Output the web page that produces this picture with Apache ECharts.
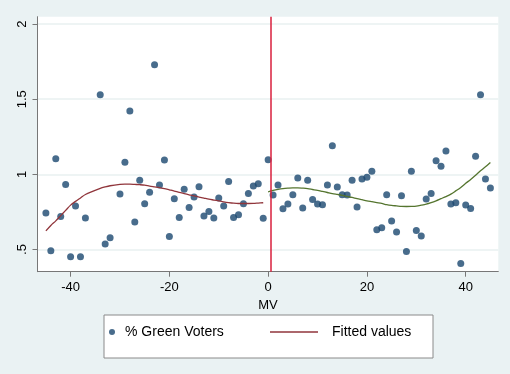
<!DOCTYPE html>
<html>
<head>
<meta charset="utf-8">
<script src="https://cdn.jsdelivr.net/npm/echarts@6/dist/echarts.min.js"></script>
<style>
html,body{margin:0;padding:0;background:#eaf2f3;}
#chart{width:510px;height:374px;}
</style>
</head>
<body>
<div id="chart"></div>
<script>
// Left of cutoff (MV < 0)
var xLeft = [-45,-44,-43,-42,-41,-40,-39,-38,-37,-34,-33,-32,-30,-29,-28,-27,-26,-25,-24,-23,-22,-21,-20,-19,-18,-17,-16,-15,-14,-13,-12,-11,-10,-9,-8,-7,-6,-5,-4,-3,-2,-1];
var yLeft = [0.742,0.491,1.104,0.720,0.933,0.451,0.789,0.451,0.709,1.529,0.536,0.578,0.869,1.080,1.422,0.682,0.960,0.804,0.880,1.729,0.929,1.096,0.587,0.838,0.713,0.900,0.780,0.849,0.918,0.722,0.753,0.709,0.842,0.789,0.953,0.713,0.731,0.804,0.873,0.922,0.938,0.707];
var fitLeft = [0.624,0.660,0.690,0.725,0.760,0.795,0.820,0.843,0.866,0.906,0.916,0.924,0.933,0.935,0.935,0.933,0.931,0.928,0.922,0.917,0.912,0.905,0.897,0.889,0.880,0.872,0.864,0.856,0.849,0.842,0.835,0.829,0.823,0.817,0.812,0.808,0.806,0.806,0.806,0.807,0.809,0.811];
// Right of cutoff (MV >= 0)
var xRight = [0,1,2,3,4,5,6,7,8,9,10,11,12,13,14,15,16,17,18,19,20,21,22,23,24,25,26,27,28,29,30,31,32,33,34,35,36,37,38,39,40,41,42,43,44,45];
var yRight = [1.097,0.862,0.929,0.771,0.802,0.864,0.976,0.776,0.960,0.833,0.802,0.798,0.929,1.191,0.916,0.864,0.862,0.960,0.782,0.969,0.980,1.020,0.631,0.644,0.864,0.689,0.616,0.858,0.487,1.020,0.627,0.589,0.836,0.873,1.091,1.053,1.156,0.802,0.811,0.407,0.796,0.773,1.120,1.529,0.969,0.909];
var fitRight = [0.884,0.893,0.900,0.905,0.908,0.910,0.910,0.908,0.905,0.899,0.893,0.886,0.879,0.872,0.866,0.860,0.853,0.846,0.838,0.831,0.824,0.818,0.812,0.806,0.798,0.793,0.790,0.787,0.786,0.787,0.789,0.795,0.802,0.812,0.824,0.838,0.852,0.868,0.890,0.913,0.940,0.966,0.994,1.024,1.050,1.079];
var xTicks = [-40,-20,0,20,40];
var yTicks = [0.5,1,1.5,2];
var cutoff = 0.5;

function pairs(xs, ys){ return xs.map(function(x,i){ return [x, ys[i]]; }); }

var FONT = 'Liberation Sans';
var chart = echarts.init(document.getElementById('chart'), null, {renderer:'canvas'});
chart.setOption({
  animation:false,
  backgroundColor:'#eaf2f3',
  textStyle:{fontFamily:FONT},
  grid:{left:37.5, right:11.7, top:16.7, bottom:102.3, show:true, backgroundColor:'#ffffff', borderWidth:0},
  xAxis:{
    type:'value', min:-46.7, max:46.6,
    name:'MV', nameLocation:'middle', nameGap:20,
    nameTextStyle:{color:'#000', fontSize:13, fontFamily:FONT},
    axisLine:{show:true, onZero:false, lineStyle:{color:'#777', width:1}},
    axisTick:{show:true, length:5, customValues:xTicks, lineStyle:{color:'#777'}},
    axisLabel:{customValues:xTicks, color:'#000', fontSize:13, fontFamily:FONT, margin:9},
    splitLine:{show:false}
  },
  yAxis:{
    type:'value', min:0.352, max:2.049,
    axisLine:{show:true, onZero:false, lineStyle:{color:'#777', width:1}},
    axisTick:{show:true, length:5, customValues:yTicks, lineStyle:{color:'#777'}},
    axisLabel:{customValues:yTicks, rotate:90, color:'#000', fontSize:13, fontFamily:FONT, margin:9,
      formatter:function(v){ var s = String(v); return s.indexOf('0.')===0 ? s.slice(1) : s; }},
    splitLine:{show:true, lineStyle:{color:'#e8f0f1', width:1.5}}
  },
  legend:[{
    left:109, top:325, padding:0, itemWidth:6, itemHeight:6,
    data:[{name:'% Green Voters', icon:'circle'}],
    textStyle:{color:'#000', fontSize:14, fontFamily:FONT, padding:[0,0,0,5]}
  },{
    left:270, top:325, padding:0, itemWidth:48, itemHeight:1.5,
    data:[{name:'Fitted values', icon:'rect'}],
    textStyle:{color:'#000', fontSize:14, fontFamily:FONT, padding:[0,0,0,9]}
  }],
  graphic:[{
    type:'rect', z:-1, left:103.5, top:314.5,
    shape:{width:329, height:43},
    style:{fill:'#ffffff', stroke:'#8a8a8a', lineWidth:1}
  }],
  series:[
    {
      name:'% Green Voters', type:'scatter', symbol:'circle', symbolSize:7,
      itemStyle:{color:'#1a476f'},
      data: pairs(xLeft, yLeft).concat(pairs(xRight, yRight)),
      markLine:{silent:true, symbol:'none', label:{show:false},
        lineStyle:{color:'#d91f3c', width:1.5, type:'solid'},
        data:[{xAxis:cutoff}]}
    },
    {
      name:'Fitted values', type:'line', showSymbol:false, smooth:0.3,
      lineStyle:{color:'#90353b', width:1.3}, itemStyle:{color:'#90353b'},
      data: pairs(xLeft, fitLeft), z:3
    },
    {
      name:'Fitted values (right)', type:'line', showSymbol:false, smooth:0.3,
      lineStyle:{color:'#55752f', width:1.3}, itemStyle:{color:'#55752f'},
      data: pairs(xRight, fitRight), z:3
    }
  ]
});
</script>
</body>
</html>
